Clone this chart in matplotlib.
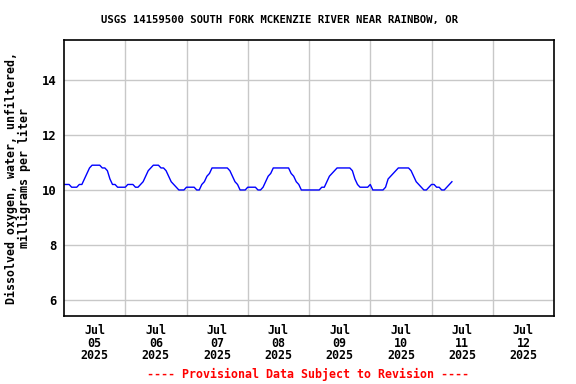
import numpy as np
import pandas as pd
import matplotlib
matplotlib.use("Agg")
import matplotlib.pyplot as plt
import matplotlib.dates as mdates

# hourly dissolved oxygen readings (mg/L), starting 2025-07-05 00:00
start = "2025-07-05 00:00"
do_jul05 = [10.2, 10.2, 10.2, 10.1, 10.1, 10.1, 10.2, 10.2, 10.4, 10.6, 10.8, 10.9,
            10.9, 10.9, 10.9, 10.8, 10.8, 10.7, 10.4, 10.2, 10.2, 10.1, 10.1, 10.1]
do_jul06 = [10.1, 10.2, 10.2, 10.2, 10.1, 10.1, 10.2, 10.3, 10.5, 10.7, 10.8, 10.9,
            10.9, 10.9, 10.8, 10.8, 10.7, 10.5, 10.3, 10.2, 10.1, 10.0, 10.0, 10.0]
do_jul07 = [10.1, 10.1, 10.1, 10.1, 10.0, 10.0, 10.2, 10.3, 10.5, 10.6, 10.8, 10.8,
            10.8, 10.8, 10.8, 10.8, 10.8, 10.7, 10.5, 10.3, 10.2, 10.0, 10.0, 10.0]
do_jul08 = [10.1, 10.1, 10.1, 10.1, 10.0, 10.0, 10.1, 10.3, 10.5, 10.6, 10.8, 10.8,
            10.8, 10.8, 10.8, 10.8, 10.8, 10.6, 10.5, 10.3, 10.2, 10.0, 10.0, 10.0]
do_jul09 = [10.0, 10.0, 10.0, 10.0, 10.0, 10.1, 10.1, 10.3, 10.5, 10.6, 10.7, 10.8,
            10.8, 10.8, 10.8, 10.8, 10.8, 10.7, 10.4, 10.2, 10.1, 10.1, 10.1, 10.1]
do_jul10 = [10.2, 10.0, 10.0, 10.0, 10.0, 10.0, 10.1, 10.4, 10.5, 10.6, 10.7, 10.8,
            10.8, 10.8, 10.8, 10.8, 10.7, 10.5, 10.3, 10.2, 10.1, 10.0, 10.0, 10.1]
do_jul11 = [10.2, 10.2, 10.1, 10.1, 10.0, 10.0, 10.1, 10.2, 10.3]

values = do_jul05 + do_jul06 + do_jul07 + do_jul08 + do_jul09 + do_jul10 + do_jul11
times = pd.date_range(start, periods=len(values), freq="h")

day_labels = ["Jul\n05\n2025", "Jul\n06\n2025", "Jul\n07\n2025", "Jul\n08\n2025",
              "Jul\n09\n2025", "Jul\n10\n2025", "Jul\n11\n2025", "Jul\n12\n2025"]

mono = "DejaVu Sans Mono"

fig = plt.figure(figsize=(5.76, 3.84), dpi=100)
ax = fig.add_axes([64 / 576, 68 / 384, 490 / 576, 276 / 384])

ax.plot(times, values, color="#0000ff", linewidth=1.0)

x0 = pd.Timestamp("2025-07-05")
ax.set_xlim(x0, x0 + pd.Timedelta(days=8))
ax.set_ylim(5.42, 15.45)

# labels at noon, grid at midnight
noons = [x0 + pd.Timedelta(hours=12 + 24 * i) for i in range(8)]
mids = [x0 + pd.Timedelta(days=i) for i in range(1, 8)]
ax.set_xticks(noons)
ax.set_xticklabels(day_labels, fontfamily=mono, fontweight="bold", fontsize=8.4,
                   linespacing=0.95)
ax.set_xticks(mids, minor=True)
ax.grid(True, which="minor", axis="x", color="#c8c8c8", linewidth=1)
ax.set_yticks([6, 8, 10, 12, 14])
ax.set_yticklabels(["6", "8", "10", "12", "14"], fontfamily=mono,
                   fontweight="bold", fontsize=8.8)
ax.grid(True, which="major", axis="y", color="#c8c8c8", linewidth=1)
ax.tick_params(which="both", length=0)
ax.tick_params(axis="x", pad=6)
ax.tick_params(axis="y", pad=5)

for s in ax.spines.values():
    s.set_linewidth(1.2)

ax.set_ylabel("Dissolved oxygen, water, unfiltered,\nmilligrams per liter",
              fontfamily=mono, fontweight="bold", fontsize=8.4, linespacing=1.0,
              labelpad=8)

fig.text(0.486, 0.948, "USGS 14159500 SOUTH FORK MCKENZIE RIVER NEAR RAINBOW, OR",
         ha="center", va="center", fontfamily=mono, fontweight="bold", fontsize=7.7)
fig.text(0.535, 0.024, "---- Provisional Data Subject to Revision ----",
         ha="center", va="center", fontfamily=mono, fontweight="bold",
         fontsize=8.4, color="red")

fig.savefig("out.png", dpi=100)
